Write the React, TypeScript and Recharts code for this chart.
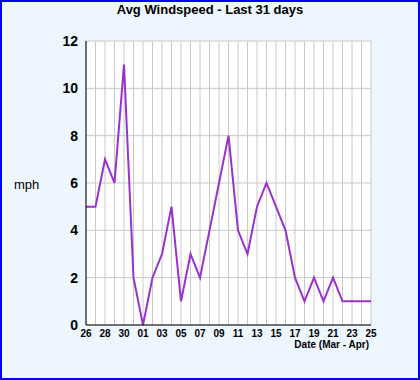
import React from 'react';
import { LineChart, Line, XAxis, YAxis, CartesianGrid } from 'recharts';

// Mar 26 .. Apr 25
const days = [
  '26', '27', '28', '29', '30', '31',
  '01', '02', '03', '04', '05', '06', '07', '08', '09', '10',
  '11', '12', '13', '14', '15', '16', '17', '18', '19', '20',
  '21', '22', '23', '24', '25',
];
const windspeed = [
  5, 5, 7, 6, 11, 2,
  0, 2, 3, 5, 1, 3, 2, 4, 6, 8,
  4, 3, 5, 6, 5, 4, 2, 1, 2, 1,
  2, 1, 1, 1, 1,
];
const yTicks = [0, 2, 4, 6, 8, 10, 12];

const data = days.map((d, i) => ({ day: d, speed: windspeed[i] }));

const font = '"Liberation Sans", Arial, sans-serif';

export default function App() {
  return (
    <div
      style={{
        position: 'absolute',
        left: 0,
        top: 0,
        width: 420,
        height: 380,
        background: '#eef6ff',
        boxShadow: 'inset 0 0 0 2px #0000ff',
        fontFamily: font,
      }}
    >
      <div
        style={{
          position: 'absolute',
          top: 3,
          left: 0,
          width: 420,
          textAlign: 'center',
          fontSize: 13,
          lineHeight: '13px',
          fontWeight: 'bold',
          color: '#000',
        }}
      >
        Avg Windspeed - Last 31 days
      </div>
      <div
        style={{
          position: 'absolute',
          top: 178,
          left: 14,
          fontSize: 13,
          lineHeight: '13px',
          color: '#000',
        }}
      >
        mph
      </div>
      <div
        style={{
          position: 'absolute',
          top: 340,
          right: 51,
          fontSize: 10,
          lineHeight: '10px',
          fontWeight: 'bold',
          color: '#000',
        }}
      >
        Date (Mar - Apr)
      </div>
      <LineChart
        width={420}
        height={380}
        data={data}
        margin={{ top: 41, right: 49, bottom: 25, left: 0 }}
        style={{ position: 'absolute', left: 0, top: 0 }}
      >
        <CartesianGrid stroke="#c8c8c8" fill="#ffffff" strokeWidth={1} />
        <XAxis
          dataKey="day"
          interval={0}
          height={30}
          tickLine={false}
          tickSize={0}
          tickMargin={5}
          axisLine={{ stroke: '#000' }}
          tickFormatter={(v: string, i: number) => (i % 2 === 0 ? v : '')}
          tick={{ fill: '#000', fontSize: 10, fontWeight: 'bold', fontFamily: font }}
        />
        <YAxis
          domain={[0, 12]}
          ticks={yTicks}
          width={86}
          tickLine={false}
          tickSize={0}
          tickMargin={8}
          axisLine={{ stroke: '#000' }}
          tick={{ fill: '#000', fontSize: 14, fontWeight: 'bold', fontFamily: font }}
        />
        <Line
          type="linear"
          dataKey="speed"
          stroke="#9932cc"
          strokeWidth={2}
          dot={false}
          isAnimationActive={false}
        />
      </LineChart>
    </div>
  );
}
